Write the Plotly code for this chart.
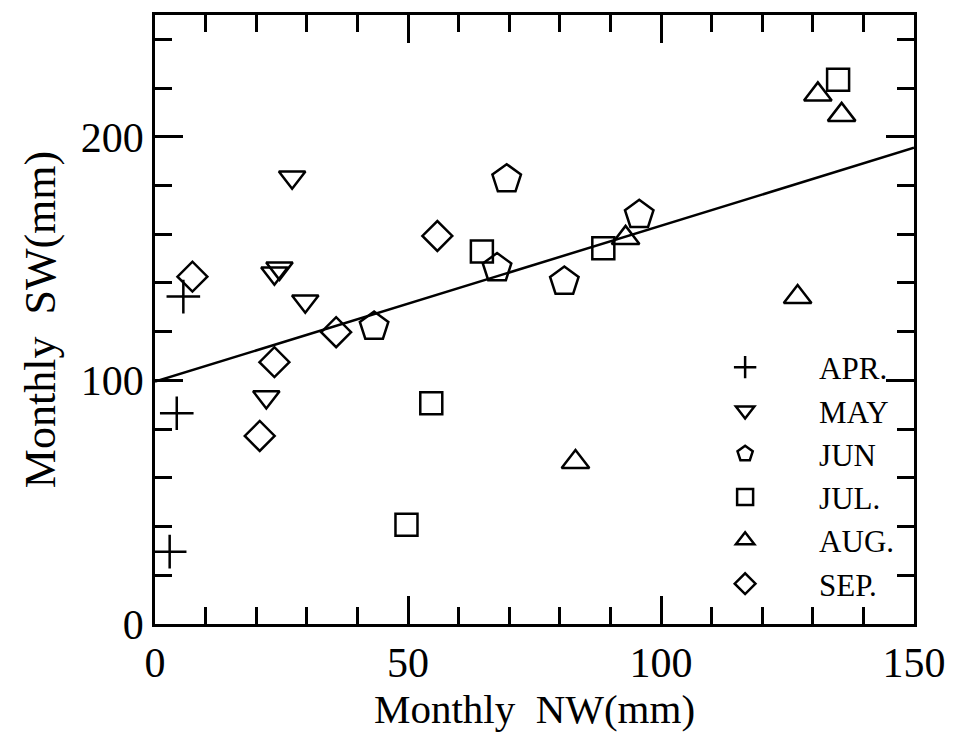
import plotly.graph_objects as go

# ---- data ----
apr_x = [5.6, 4.3, 2.9]
apr_y = [134.4, 86.5, 29.7]

may_x = [27.1, 24.6, 23.6, 29.7, 22.0]
may_y = [183.4, 146.0, 144.0, 132.5, 93.2]

jun_x = [69.5, 67.6, 43.3, 80.9, 95.7]
jun_y = [182.6, 146.1, 122.1, 140.6, 168.0]

jul_x = [64.6, 88.6, 135.0, 54.6, 49.7]
jul_y = [152.9, 154.3, 223.4, 90.6, 40.7]

aug_x = [131.0, 135.7, 93.0, 127.0, 83.1]
aug_y = [217.4, 209.0, 158.5, 134.2, 66.5]

sep_x = [7.4, 55.8, 23.6, 35.8, 20.7]
sep_y = [142.6, 159.3, 107.5, 119.8, 77.2]

fit_x = [0, 150]
fit_y = [99.5, 195.5]

x_ticks = [0, 50, 100, 150]
y_ticks = [0, 100, 200]

series = [
    ("APR.", apr_x, apr_y, "cross-thin-open", 24),
    ("MAY", may_x, may_y, "triangle-down-open", 23),
    ("JUN", jun_x, jun_y, "pentagon-open", 30),
    ("JUL.", jul_x, jul_y, "square-open", 22),
    ("AUG.", aug_x, aug_y, "triangle-up-open", 24),
    ("SEP.", sep_x, sep_y, "diamond-open", 23),
]

FONT = "Liberation Serif, Times New Roman, serif"

fig = go.Figure()
fig.add_trace(go.Scatter(x=fit_x, y=fit_y, mode="lines",
                         line=dict(color="black", width=2.5),
                         showlegend=False, hoverinfo="skip"))
for name, xs, ys, sym, sz in series:
    fig.add_trace(go.Scatter(
        x=xs, y=ys, mode="markers", name=name,
        marker=dict(symbol=sym, size=sz, color="black",
                    line=dict(color="black", width=2.5)),
    ))

axis_common = dict(
    showgrid=False, zeroline=False, showline=True, linecolor="black",
    linewidth=2.5, mirror="allticks", ticks="inside", tickcolor="black",
    tickwidth=2.5, ticklen=28,
    tickfont=dict(family=FONT, size=42, color="black"),
)

fig.update_xaxes(
    range=[0, 150], tickvals=x_ticks,
    minor=dict(dtick=10, ticks="inside", ticklen=17, tickwidth=2.5,
               tickcolor="black", showgrid=False),
    title=dict(text="Monthly  NW(mm)", font=dict(family=FONT, size=41, color="black"),
               standoff=4),
    **axis_common,
)
fig.update_yaxes(
    range=[0, 250], tickvals=y_ticks,
    minor=dict(dtick=20, ticks="inside", ticklen=17, tickwidth=2.5,
               tickcolor="black", showgrid=False),
    title=dict(text="Monthly  SW(mm)", font=dict(family=FONT, size=44, color="black"),
               standoff=12),
    **axis_common,
)

fig.update_layout(
    width=958, height=732,
    margin=dict(l=155, r=40, t=15, b=108),
    paper_bgcolor="white", plot_bgcolor="white",
    font=dict(family=FONT, color="black"),
    legend=dict(x=0.680, y=0.4655, xanchor="left", yanchor="top",
                bgcolor="rgba(0,0,0,0)", borderwidth=0,
                font=dict(family=FONT, size=31, color="black"),
                itemwidth=138),
)

fig.write_html("out.html")
